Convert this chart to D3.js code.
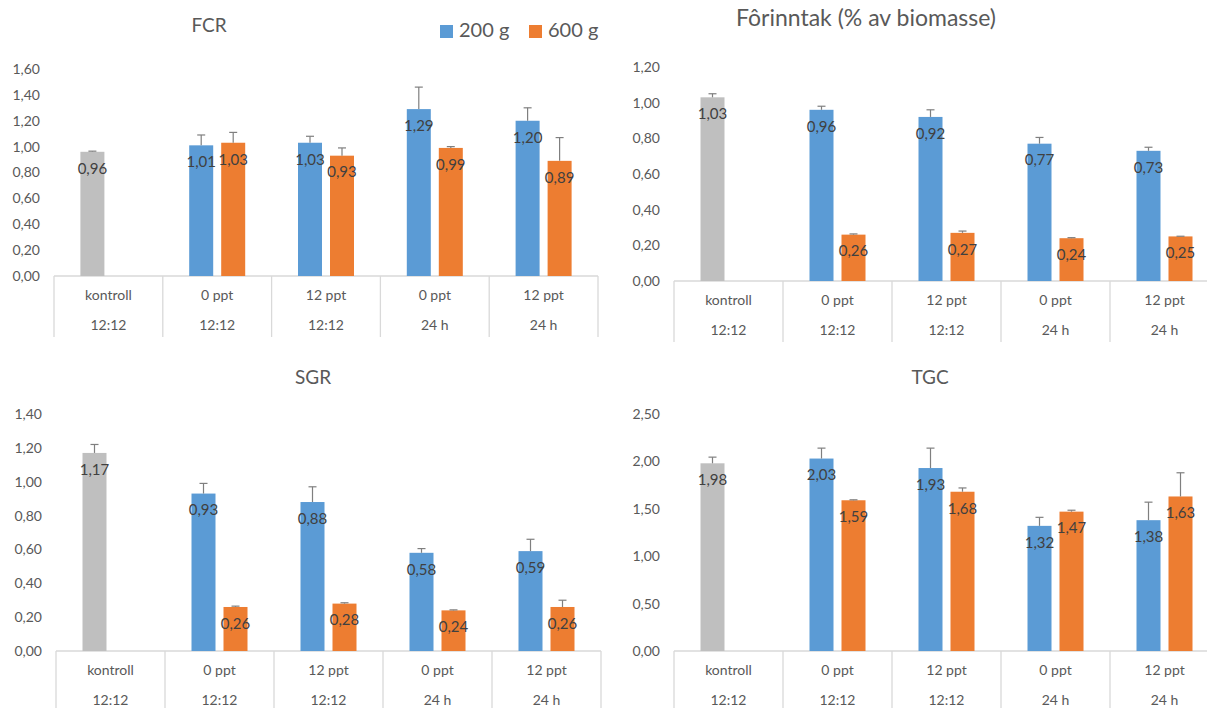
<!DOCTYPE html>
<html>
<head>
<meta charset="utf-8">
<script src="https://cdn.jsdelivr.net/npm/d3@7"></script>
<style>
  body { margin: 0; background: #fff; }
  text { font-family: Lato, "Open Sans", sans-serif; }
</style>
</head>
<body>
<svg id="chart" width="1207" height="708"></svg>
<script>
// Data

var catTop = ["kontroll", "0 ppt", "12 ppt", "0 ppt", "12 ppt"];
var catSub = ["12:12", "12:12", "12:12", "24 h", "24 h"];
var seriesNames = ["200 g", "600 g"];

var fcr200 = [0.96, 1.01, 1.03, 1.29, 1.20];
var fcr600 = [null, 1.03, 0.93, 0.99, 0.89];
var fcrErr200 = [0.005, 0.08, 0.05, 0.17, 0.10];
var fcrErr600 = [null, 0.08, 0.06, 0.01, 0.18];
var fcrTicks = [0, 0.2, 0.4, 0.6, 0.8, 1.0, 1.2, 1.4, 1.6];

var for200 = [1.03, 0.96, 0.92, 0.77, 0.73];
var for600 = [null, 0.26, 0.27, 0.24, 0.25];
var forErr200 = [0.02, 0.02, 0.04, 0.035, 0.02];
var forErr600 = [null, 0.004, 0.01, 0.003, 0.001];
var forTicks = [0, 0.2, 0.4, 0.6, 0.8, 1.0, 1.2];

var sgr200 = [1.17, 0.93, 0.88, 0.58, 0.59];
var sgr600 = [null, 0.26, 0.28, 0.24, 0.26];
var sgrErr200 = [0.05, 0.06, 0.09, 0.025, 0.07];
var sgrErr600 = [null, 0.005, 0.005, 0.003, 0.04];
var sgrTicks = [0, 0.2, 0.4, 0.6, 0.8, 1.0, 1.2, 1.4];

var tgc200 = [1.98, 2.03, 1.93, 1.32, 1.38];
var tgc600 = [null, 1.59, 1.68, 1.47, 1.63];
var tgcErr200 = [0.065, 0.11, 0.21, 0.09, 0.19];
var tgcErr600 = [null, 0.005, 0.04, 0.015, 0.25];
var tgcTicks = [0, 0.5, 1.0, 1.5, 2.0, 2.5];

// Layout + colours

var blue = "#5B9BD5", orange = "#ED7D31", grey = "#BFBFBF";
var textCol = "#595959", labelCol = "#404040", lineCol = "#D9D9D9";

var nb = d3.formatLocale({decimal: ",", thousands: " ", grouping: [3], currency: ["", ""]});
var fmt = nb.format(".2f");

var svg = d3.select("#chart");

var panels = [
  {title: "FCR", v: [fcr200, fcr600], e: [fcrErr200, fcrErr600], ticks: fcrTicks,
   left: 54, right: 598, y0: 276, y1: 69, tx: 209, ty: 27, ts: 19},
  {title: "Fôrinntak (% av biomasse)", v: [for200, for600], e: [forErr200, forErr600], ticks: forTicks,
   left: 674, right: 1219, y0: 281, y1: 67, tx: 866, ty: 20, ts: 23},
  {title: "SGR", v: [sgr200, sgr600], e: [sgrErr200, sgrErr600], ticks: sgrTicks,
   left: 56, right: 601, y0: 651, y1: 414, tx: 313, ty: 379, ts: 19},
  {title: "TGC", v: [tgc200, tgc600], e: [tgcErr200, tgcErr600], ticks: tgcTicks,
   left: 674, right: 1219, y0: 651, y1: 414, tx: 930, ty: 379, ts: 19}
];

panels.forEach(function(p) { draw_panel(p); });

function draw_panel(p) {
  var g = svg.append("g");

  var x = d3.scaleBand().domain(d3.range(catTop.length)).range([p.left, p.right]);
  var y = d3.scaleLinear()
    .domain([0, p.ticks[p.ticks.length - 1]])
    .range([p.y0, p.y1]);
  // bars inside one category
  var xs = d3.scaleBand().domain(seriesNames).range([-28, 28]).paddingInner(0.25);

  // title
  g.append("text")
    .attr("x", p.tx).attr("y", p.ty)
    .attr("text-anchor", "middle")
    .attr("dominant-baseline", "middle")
    .style("font-size", p.ts + "px")
    .style("fill", textCol)
    .text(p.title);

  // y axis (labels only)
  var yAxis = g.append("g")
    .attr("transform", "translate(" + p.left + ",0)")
    .call(d3.axisLeft(y).tickValues(p.ticks).tickSize(0).tickPadding(14).tickFormat(fmt));
  yAxis.select(".domain").remove();
  yAxis.selectAll("text")
    .style("font-family", "Lato, 'Open Sans', sans-serif")
    .style("font-size", "14px")
    .style("fill", textCol);

  // category axis: baseline + separators
  g.append("line")
    .attr("x1", p.left).attr("x2", p.right)
    .attr("y1", p.y0).attr("y2", p.y0)
    .attr("stroke", lineCol).attr("stroke-width", 1.3);
  var seps = d3.range(catTop.length + 1).map(function(i) {
    return i < catTop.length ? x(i) : x(i - 1) + x.bandwidth();
  });
  g.selectAll(".sep").data(seps).enter().append("line")
    .attr("x1", function(d) { return d; }).attr("x2", function(d) { return d; })
    .attr("y1", p.y0).attr("y2", p.y0 + 61)
    .attr("stroke", lineCol).attr("stroke-width", 1.3);
  g.selectAll(".ctop").data(catTop).enter().append("text")
    .attr("x", function(d, i) { return x(i) + x.bandwidth() / 2; })
    .attr("y", p.y0 + 20)
    .attr("text-anchor", "middle").attr("dominant-baseline", "middle")
    .style("font-size", "14px").style("fill", textCol)
    .text(function(d) { return d; });
  g.selectAll(".csub").data(catSub).enter().append("text")
    .attr("x", function(d, i) { return x(i) + x.bandwidth() / 2; })
    .attr("y", p.y0 + 50)
    .attr("text-anchor", "middle").attr("dominant-baseline", "middle")
    .style("font-size", "14px").style("fill", textCol)
    .text(function(d) { return d; });

  // bars, error bars, labels
  var items = [];
  seriesNames.forEach(function(s, si) {
    p.v[si].forEach(function(val, ci) {
      if (val == null) return;
      items.push({s: s, si: si, ci: ci, v: val, e: p.e[si][ci]});
    });
  });
  function bx(d) { return x(d.ci) + x.bandwidth() / 2 + xs(d.s); }
  function col(d) {
    if (d.ci == 0) return grey;  // kontroll
    return d.si == 0 ? blue : orange;
  }

  g.selectAll(".bar").data(items).enter().append("rect")
    .attr("x", bx)
    .attr("y", function(d) { return y(d.v); })
    .attr("width", xs.bandwidth())
    .attr("height", function(d) { return p.y0 - y(d.v); })
    .attr("fill", col);

  var eb = g.selectAll(".err").data(items).enter().append("g")
    .attr("stroke", "#7F7F7F").attr("stroke-width", 1.2);
  eb.append("line")
    .attr("x1", function(d) { return bx(d) + xs.bandwidth() / 2; })
    .attr("x2", function(d) { return bx(d) + xs.bandwidth() / 2; })
    .attr("y1", function(d) { return y(d.v); })
    .attr("y2", function(d) { return y(d.v + d.e); });
  eb.append("line")
    .attr("x1", function(d) { return bx(d) + xs.bandwidth() / 2 - 4; })
    .attr("x2", function(d) { return bx(d) + xs.bandwidth() / 2 + 4; })
    .attr("y1", function(d) { return y(d.v + d.e); })
    .attr("y2", function(d) { return y(d.v + d.e); });

  g.selectAll(".lbl").data(items).enter().append("text")
    .attr("x", function(d) { return bx(d) + xs.bandwidth() / 2; })
    .attr("y", function(d) { return y(d.v) + 18; })
    .attr("text-anchor", "middle").attr("dominant-baseline", "middle")
    .style("font-size", "15px").style("fill", labelCol)
    .text(function(d) { return fmt(d.v); });
}

// legend (top of FCR panel)
var legend = svg.append("g");
var legendX = [440, 529];
seriesNames.forEach(function(s, i) {
  legend.append("rect")
    .attr("x", legendX[i]).attr("y", 25).attr("width", 13).attr("height", 13)
    .attr("fill", i == 0 ? blue : orange);
  legend.append("text")
    .attr("x", legendX[i] + 19).attr("y", 32)
    .attr("dominant-baseline", "middle")
    .style("font-size", "20px").style("fill", textCol)
    .text(s);
});
</script>
</body>
</html>
